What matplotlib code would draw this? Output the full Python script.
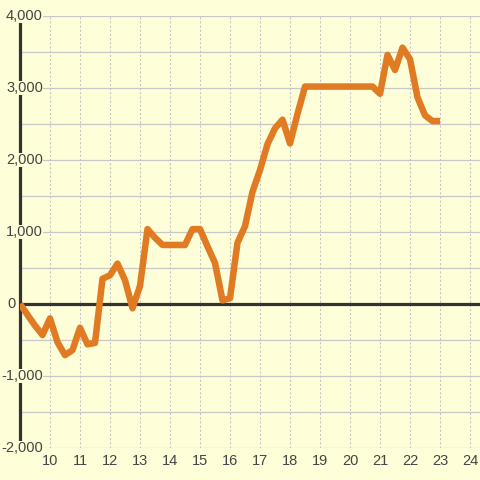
import matplotlib.pyplot as plt
from matplotlib.transforms import blended_transform_factory

# valores (paso de 0.25 en x)
x_vals = [9.0, 9.25, 9.5, 9.75, 10.0, 10.25, 10.5, 10.75, 11.0, 11.25, 11.5, 11.75,
          12.0, 12.25, 12.5, 12.75, 13.0, 13.25, 13.5, 13.75, 14.0, 14.25, 14.5, 14.75,
          15.0, 15.25, 15.5, 15.75, 16.0, 16.25, 16.5, 16.75, 17.0, 17.25, 17.5, 17.75,
          18.0, 18.25, 18.5, 18.75, 19.0, 19.25, 19.5, 19.75, 20.0, 20.25, 20.5, 20.75,
          21.0, 21.25, 21.5, 21.75, 22.0, 22.25, 22.5, 22.75, 23.0]
y_vals = [0, -150, -300, -430, -200, -530, -710, -640, -330, -560, -540, 350,
          400, 560, 330, -60, 250, 1040, 920, 820, 820, 820, 820, 1040,
          1040, 800, 570, 50, 80, 850, 1080, 1560, 1860, 2220, 2440, 2560,
          2230, 2640, 3020, 3020, 3020, 3020, 3020, 3020, 3020, 3020, 3020, 3020,
          2920, 3460, 3250, 3560, 3400, 2870, 2620, 2540, 2540]

x_ticks = list(range(10, 25))
y_grid = list(range(-2000, 4001, 500))
y_labels = [-2000, -1000, 1000, 2000, 3000, 4000]

fondo = '#fefed8'
texto = '#444444'

plt.rcParams['font.family'] = ['Liberation Sans', 'DejaVu Sans']

fig = plt.figure(figsize=(4.8, 4.8), dpi=100, facecolor=fondo)
ax = fig.add_axes([20 / 480, 32 / 480, 460 / 480, 432 / 480])
ax.set_facecolor(fondo)

ax.set_xlim(9, 9 + 460 / 30)
ax.set_ylim(-2000, 4000)

# rejilla
for yv in y_grid:
    ax.axhline(yv, color='#c8c8c8', lw=0.9, zorder=1)
for xv in x_ticks:
    ax.axvline(xv, color='#c4c4c4', lw=0.75, linestyle=(0, (2, 2)), zorder=1)
ax.axhline(0, color='#333333', lw=2.3, zorder=2)

for s in ['top', 'right', 'bottom']:
    ax.spines[s].set_visible(False)
ax.spines['left'].set_color('#333333')
ax.spines['left'].set_linewidth(2.3)
ax.spines['left'].set_zorder(2)

ax.plot(x_vals, y_vals, color='#e07b24', lw=4.7, solid_joinstyle='round',
        solid_capstyle='butt', zorder=4)

ax.set_xticks(x_ticks)
ax.set_xticklabels([str(v) for v in x_ticks], fontsize=10.5, color=texto)
ax.tick_params(axis='x', length=0, pad=4.5)
ax.set_yticks([])

trans = blended_transform_factory(ax.transAxes, ax.transData)
for yv in y_labels:
    ax.text(23 / 460, yv, f'{yv:,}', transform=trans, ha='right', va='center',
            fontsize=10.5, color=texto, zorder=5, clip_on=False,
            bbox=dict(facecolor=fondo, edgecolor='none', pad=0))
ax.text(-4 / 460, 0, '0', transform=trans, ha='right', va='center',
        fontsize=10.5, color=texto, zorder=5, clip_on=False)

fig.savefig('out.png', dpi=100, facecolor=fondo)
